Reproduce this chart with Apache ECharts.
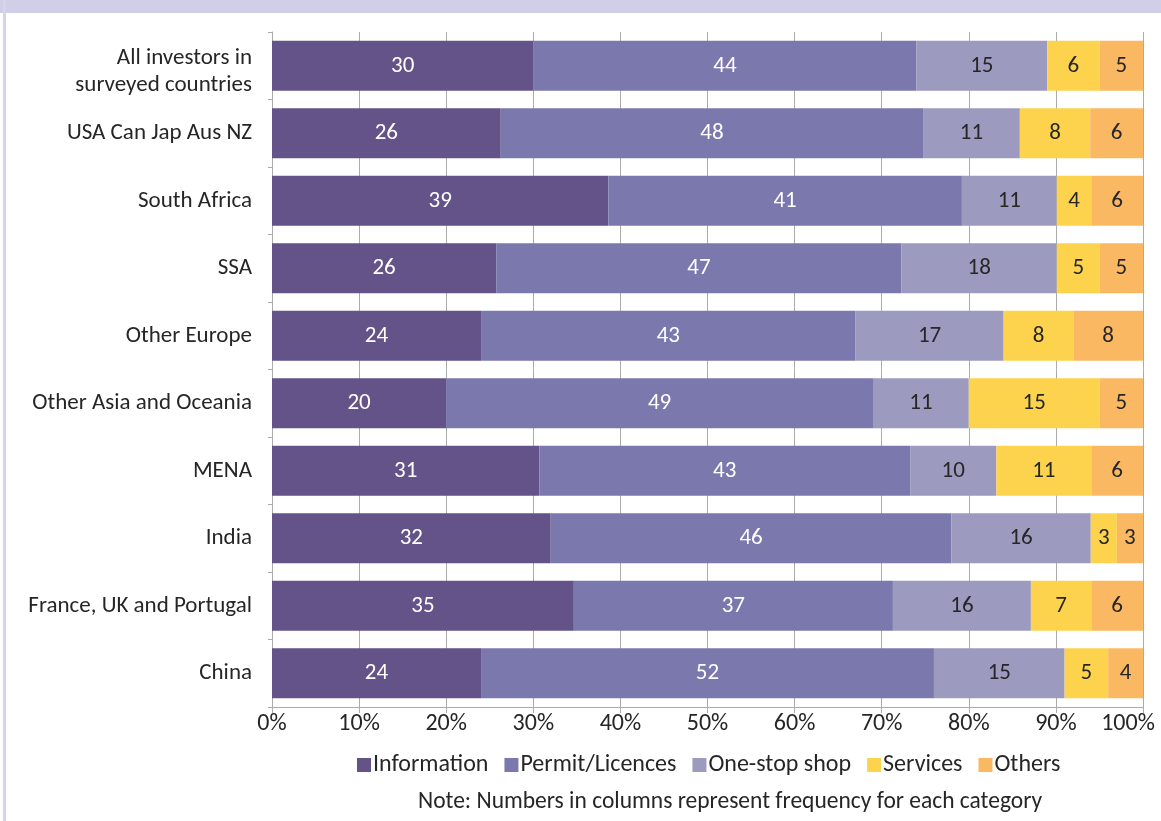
<!DOCTYPE html>
<html><head><meta charset="utf-8">
<script src="https://cdn.jsdelivr.net/npm/echarts@6/dist/echarts.min.js"></script>
<style>html,body{margin:0;padding:0;background:#fff;}#c{width:1161px;height:821px;}</style>
</head><body><div id="c"></div>
<script>
const categories = ["All investors in\nsurveyed countries","USA Can Jap Aus NZ","South Africa","SSA","Other Europe","Other Asia and Oceania","MENA","India","France, UK and Portugal","China"];
const seriesNames = ["Information","Permit/Licences","One-stop shop","Services","Others"];
const information = [30,26,39,26,24,20,31,32,35,24];
const permit      = [44,48,41,47,43,49,43,46,37,52];
const oneStop     = [15,11,11,18,17,11,10,16,16,15];
const services    = [6,8,4,5,8,15,11,3,7,5];
const others      = [5,6,6,5,8,5,6,3,6,4];
const tickLabels = ["0%","10%","20%","30%","40%","50%","60%","70%","80%","90%","100%"];
const noteText = "Note: Numbers in columns represent frequency for each category";

const raw = [information, permit, oneStop, services, others];
const colors = ["#635388","#7B78AE","#9D9ABF","#FDD34E","#FBB862"];
const labelColors = ["#ffffff","#ffffff","#262626","#262626","#262626"];
const totals = categories.map((_, i) => raw.reduce((s, a) => s + a[i], 0));
const FONT = "Carlito, Calibri, Lato, sans-serif";

const chart = echarts.init(document.getElementById('c'), null, {renderer:'canvas'});
chart.setOption({
  backgroundColor: '#ffffff',
  animation: false,
  textStyle: {fontFamily: FONT},
  grid: {left: 272, right: 18, top: 32, bottom: 114, containLabel: false},
  xAxis: {
    type: 'value', min: 0, max: 100, interval: 10,
    axisLine: {show: true, lineStyle: {color: '#ABABAB'}},
    axisTick: {show: true, length: 6, lineStyle: {color: '#ABABAB'}},
    splitLine: {show: true, lineStyle: {color: '#ABABAB', width: 1}},
    axisLabel: {
      fontSize: 24, color: '#262626', fontFamily: FONT, margin: 5,
      formatter: v => { const t = tickLabels[Math.round(v/10)]; return v === 100 ? '{r|' + t + '}' : t; },
      rich: {r: {fontSize: 24, color: '#262626', fontFamily: FONT, padding: [0, 30, 0, 0]}}
    }
  },
  yAxis: {
    type: 'category', inverse: true, data: categories,
    axisLine: {show: true, lineStyle: {color: '#ABABAB'}},
    axisTick: {show: true, length: 4, lineStyle: {color: '#ABABAB'}},
    axisLabel: {
      fontSize: 23, color: '#262626', fontFamily: FONT, margin: 20, lineHeight: 27, align: 'right',
      formatter: (v, i) => i === 0 ? '{s| }\n' + v.split('\n').map(l => '{a|' + l + '}').join('\n') : v,
      rich: {
        s: {fontSize: 1, lineHeight: 11},
        a: {fontSize: 23, color: '#262626', fontFamily: FONT, lineHeight: 27}
      }
    }
  },
  legend: {
    data: seriesNames, top: 748, left: 352, icon: 'rect',
    itemWidth: 14, itemHeight: 14, itemGap: 16,
    textStyle: {fontSize: 24, color: '#262626', fontFamily: FONT, padding: [0,0,0,-3]}
  },
  graphic: [
    {type: 'rect', shape: {x: 0, y: 0, width: 1161, height: 13}, style: {fill: '#D1CFE7'}},
    {type: 'rect', shape: {x: 3, y: 0, width: 3, height: 821}, style: {fill: '#D6D3EA'}},
    {type: 'text', left: 418, top: 790, style: {text: noteText, font: '23.5px ' + FONT, fill: '#262626'}}
  ],
  series: raw.map((arr, s) => ({
    name: seriesNames[s], type: 'bar', stack: 'total', barCategoryGap: '26%',
    itemStyle: {color: colors[s]},
    label: {
      show: true, position: 'inside', fontSize: 23, color: labelColors[s], fontFamily: FONT,
      formatter: p => String(arr[p.dataIndex])
    },
    data: arr.map((v, i) => v / totals[i] * 100)
  }))
});
</script></body></html>
